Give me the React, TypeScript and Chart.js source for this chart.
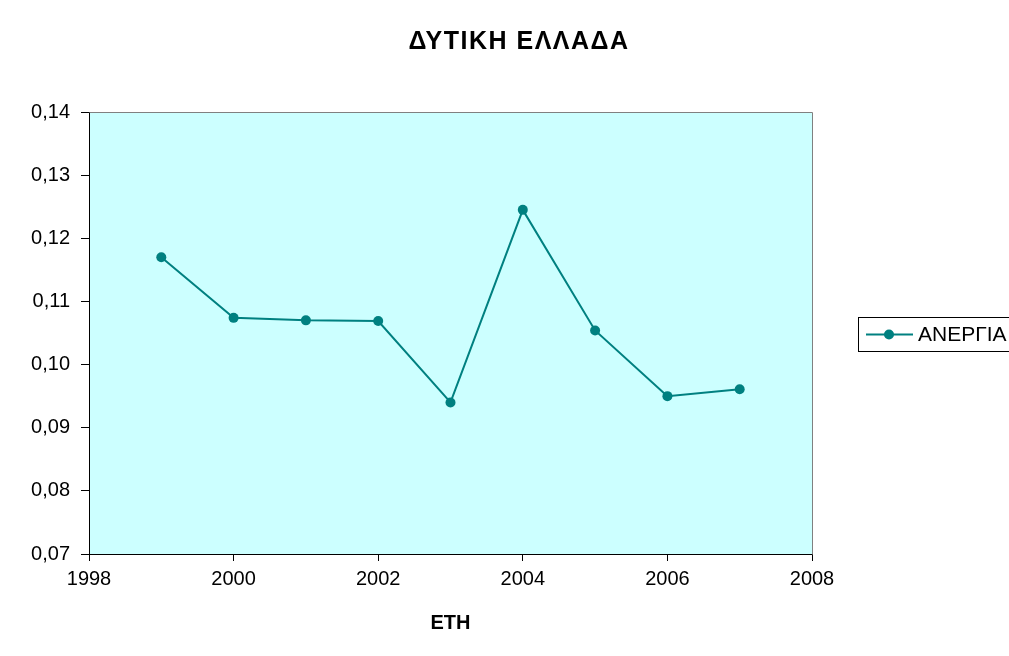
import React, { useEffect, useRef } from "react";
import { Chart, registerables } from "chart.js";

Chart.register(...registerables);

const TITLE = "ΔΥΤΙΚΗ ΕΛΛΑΔΑ";
const X_TITLE = "ΕΤΗ";
const SERIES_NAME = "ΑΝΕΡΓΙΑ";
const years = [1999, 2000, 2001, 2002, 2003, 2004, 2005, 2006, 2007];
const unemployment = [0.117, 0.1074, 0.107, 0.1069, 0.094, 0.1245, 0.1054, 0.095, 0.0961];
const xTicks = [1998, 2000, 2002, 2004, 2006, 2008];
const yTicks = [0.07, 0.08, 0.09, 0.1, 0.11, 0.12, 0.13, 0.14];

const LINE_COLOR = "#008080";
const PLOT_BG = "#CCFFFF";
const FONT = "'Liberation Sans', Arial, sans-serif";

const decorPlugin = {
  id: "decor",
  beforeDraw(chart: any) {
    const { ctx, chartArea } = chart;
    ctx.save();
    ctx.fillStyle = "#ffffff";
    ctx.fillRect(0, 0, chart.width, chart.height);
    ctx.fillStyle = PLOT_BG;
    ctx.fillRect(chartArea.left, chartArea.top, chartArea.right - chartArea.left, chartArea.bottom - chartArea.top);
    ctx.restore();
  },
  afterDraw(chart: any) {
    const { ctx, chartArea } = chart;
    ctx.save();
    // top & right border of plot area
    ctx.strokeStyle = "#808080";
    ctx.lineWidth = 1;
    ctx.beginPath();
    ctx.moveTo(Math.round(chartArea.left) + 0.5, Math.round(chartArea.top) + 0.5);
    ctx.lineTo(Math.round(chartArea.right) + 0.5, Math.round(chartArea.top) + 0.5);
    ctx.lineTo(Math.round(chartArea.right) + 0.5, Math.round(chartArea.bottom) + 0.5);
    ctx.stroke();
    // title
    ctx.fillStyle = "#000";
    ctx.font = `bold 25px ${FONT}`;
    try { (ctx as any).letterSpacing = "1.5px"; } catch (e) {}
    ctx.textAlign = "center";
    ctx.textBaseline = "middle";
    ctx.fillText(TITLE, 519, 42);
    try { (ctx as any).letterSpacing = "0px"; } catch (e) {}
    // legend
    const lx = 858.5, ly = 317.5, lh = 34;
    ctx.strokeStyle = "#000";
    ctx.lineWidth = 1;
    ctx.strokeRect(lx, ly, 200, lh);
    const cy = ly + lh / 2;
    ctx.strokeStyle = LINE_COLOR;
    ctx.lineWidth = 2;
    ctx.beginPath();
    ctx.moveTo(866, cy);
    ctx.lineTo(913, cy);
    ctx.stroke();
    ctx.fillStyle = LINE_COLOR;
    ctx.beginPath();
    ctx.arc(889, cy, 5, 0, Math.PI * 2);
    ctx.fill();
    ctx.fillStyle = "#000";
    ctx.font = `21px ${FONT}`;
    ctx.textAlign = "left";
    ctx.textBaseline = "middle";
    ctx.fillText(SERIES_NAME, 918, cy + 1);
    ctx.restore();
  },
};

export default function App() {
  const ref = useRef<HTMLCanvasElement | null>(null);
  useEffect(() => {
    if (!ref.current) return;
    const chart = new Chart(ref.current, {
      type: "line",
      data: {
        datasets: [
          {
            label: SERIES_NAME,
            data: years.map((y, i) => ({ x: y, y: unemployment[i] })),
            borderColor: LINE_COLOR,
            backgroundColor: LINE_COLOR,
            borderWidth: 2,
            pointRadius: 5,
            pointBackgroundColor: LINE_COLOR,
            pointBorderWidth: 0,
            tension: 0,
          },
        ],
      },
      options: {
        responsive: false,
        animation: false,
        layout: { padding: { left: 0, top: 112, right: 197, bottom: 0 } },
        plugins: { legend: { display: false }, title: { display: false }, tooltip: { enabled: false } },
        scales: {
          x: {
            type: "linear",
            min: 1998,
            max: 2008,
            afterBuildTicks: (s: any) => { s.ticks = xTicks.map((v) => ({ value: v })); },
            afterFit: (s: any) => { s.height = 102; },
            ticks: {
              color: "#000",
              font: { family: FONT, size: 20 },
              padding: 6,
              maxRotation: 0,
              callback: (v: any) => String(v),
            },
            grid: { drawOnChartArea: false, drawTicks: true, tickLength: 7, color: "#000" },
            border: { display: true, color: "#000", width: 1 },
            title: {
              display: true,
              text: X_TITLE,
              color: "#000",
              font: { family: FONT, size: 20, weight: "bold" },
              padding: { top: 0, bottom: 21 },
            },
          },
          y: {
            type: "linear",
            min: 0.07,
            max: 0.14,
            afterBuildTicks: (s: any) => { s.ticks = yTicks.map((v) => ({ value: v })); },
            afterFit: (s: any) => { s.width = 89; },
            ticks: {
              color: "#000",
              font: { family: FONT, size: 20 },
              padding: 11,
              callback: (v: any) => Number(v).toFixed(2).replace(".", ","),
            },
            grid: { drawOnChartArea: false, drawTicks: true, tickLength: 8, color: "#000" },
            border: { display: true, color: "#000", width: 1 },
          },
        },
      },
      plugins: [decorPlugin],
    });
    return () => chart.destroy();
  }, []);
  return (
    <canvas
      ref={ref}
      width={1009}
      height={656}
      style={{ position: "fixed", left: 0, top: 0, width: 1009, height: 656 }}
    />
  );
}
